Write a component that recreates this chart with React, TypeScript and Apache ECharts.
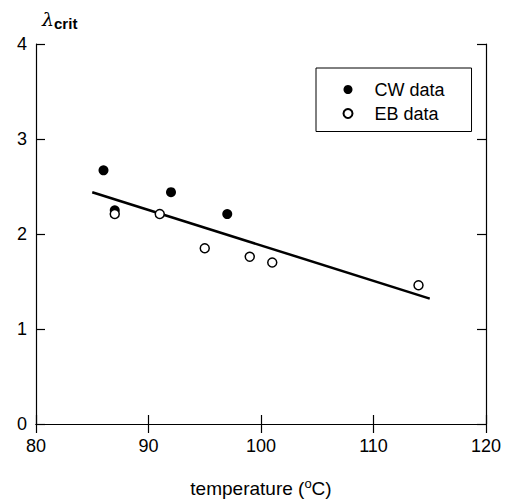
import React, { useEffect, useRef } from "react";
import * as echarts from "echarts";

const cwTemps = [86, 87, 92, 97];
const cwValues = [2.67, 2.25, 2.44, 2.21];
const ebTemps = [87, 91, 95, 99, 101, 114];
const ebValues = [2.21, 2.21, 1.85, 1.76, 1.7, 1.46];
const fitTemps = [85, 115];
const fitValues = [2.44, 1.32];
const xTicks = [80, 90, 100, 110, 120];
const yTicks = [0, 1, 2, 3, 4];

const FONT = "Liberation Sans, Arial, sans-serif";

export default function App() {
  const ref = useRef<HTMLDivElement>(null);
  useEffect(() => {
    if (!ref.current) return;
    const chart = echarts.init(ref.current, null, { renderer: "svg" });
    const axisLine = { show: true, lineStyle: { color: "#000", width: 1.2 } };
    const tickIn = { show: true, inside: true, length: 9, lineStyle: { color: "#000", width: 1.2 } };
    const option = {
      animation: false,
      backgroundColor: "#fff",
      grid: { left: 36, right: 27, top: 44, bottom: 78, containLabel: false, outerBoundsMode: "none" },
      legend: {
        data: ["CW data", "EB data"],
        orient: "vertical",
        left: 316,
        top: 68,
        itemWidth: 9,
        itemHeight: 9,
        itemGap: 6,
        padding: [12.5, 27, 9, 26.5],
        borderColor: "#000",
        borderWidth: 1,
        textStyle: { fontFamily: FONT, fontSize: 18, color: "#000", padding: [0, 0, 0, 17] },
      },
      graphic: [
        {
          type: "text",
          left: 42,
          top: 9,
          style: {
            text: "{l|λ}{s|crit}",
            rich: {
              l: { fontFamily: "DejaVu Serif, serif", fontStyle: "italic", fontSize: 19, fill: "#000" },
              s: { fontFamily: FONT, fontWeight: "bold", fontSize: 15, fill: "#000", padding: [10, 0, 0, 0] },
            },
          },
        },
      ],
      xAxis: [
        {
          type: "value",
          min: xTicks[0],
          max: xTicks[xTicks.length - 1],
          interval: 10,
          position: "bottom",
          axisLine,
          axisTick: tickIn,
          splitLine: { show: false },
          axisLabel: { fontFamily: FONT, fontSize: 18, color: "#000", margin: 13 },
          name: "temperature ({sup|o}C)",
          nameLocation: "middle",
          nameGap: 53,
          nameTextStyle: {
            fontFamily: FONT,
            fontSize: 19,
            color: "#000",
            rich: { sup: { fontFamily: FONT, fontSize: 13, color: "#000", padding: [0, 0, 10, 0] } },
          },
        },
        {
          type: "value",
          min: xTicks[0],
          max: xTicks[xTicks.length - 1],
          interval: 10,
          position: "top",
          axisLine,
          axisTick: tickIn,
          splitLine: { show: false },
          axisLabel: { show: false },
        },
      ],
      yAxis: [
        {
          type: "value",
          min: yTicks[0],
          max: yTicks[yTicks.length - 1],
          interval: 1,
          position: "left",
          axisLine,
          axisTick: tickIn,
          splitLine: { show: false },
          axisLabel: { fontFamily: FONT, fontSize: 18, color: "#000", margin: 9 },
        },
        {
          type: "value",
          min: yTicks[0],
          max: yTicks[yTicks.length - 1],
          interval: 1,
          position: "right",
          axisLine,
          axisTick: tickIn,
          splitLine: { show: false },
          axisLabel: { show: false },
        },
      ],
      series: [
        {
          name: "fit",
          type: "line",
          data: fitTemps.map((t, i) => [t, fitValues[i]]),
          symbol: "none",
          lineStyle: { color: "#000", width: 2.5 },
          z: 1,
        },
        {
          name: "CW data",
          type: "scatter",
          data: cwTemps.map((t, i) => [t, cwValues[i]]),
          symbol: "circle",
          symbolSize: 10,
          itemStyle: { color: "#000", opacity: 1 },
          z: 2,
        },
        {
          name: "EB data",
          type: "scatter",
          data: ebTemps.map((t, i) => [t, ebValues[i]]),
          symbol: "circle",
          symbolSize: 9,
          itemStyle: { color: "#fff", borderColor: "#000", borderWidth: 1.5, opacity: 1 },
          z: 3,
        },
      ],
    };
    chart.setOption(option as any);
    return () => chart.dispose();
  }, []);
  return <div ref={ref} style={{ width: 513, height: 502, position: "absolute", left: 0, top: 0 }} />;
}
